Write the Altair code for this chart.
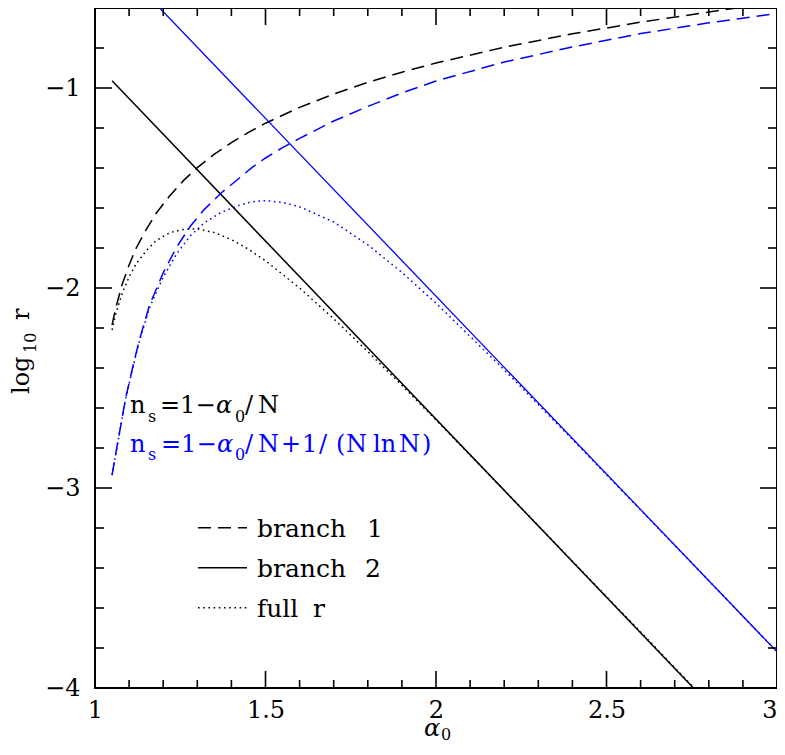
import altair as alt
import pandas as pd

# ---------------- data ----------------
# branch 1 (dashed), black: n_s = 1 - alpha0/N
alpha_b1_black = [1.05, 1.06, 1.08, 1.10, 1.12, 1.15, 1.18, 1.22, 1.26, 1.30, 1.35, 1.40,
                  1.45, 1.50, 1.60, 1.70, 1.80, 1.90, 2.00, 2.20, 2.40, 2.60, 2.80, 2.90]
logr_b1_black = [-2.185, -2.105, -1.98, -1.885, -1.803, -1.708, -1.625, -1.537, -1.462, -1.398,
                 -1.331, -1.273, -1.222, -1.176, -1.097, -1.030, -0.972, -0.921, -0.875,
                 -0.796, -0.729, -0.671, -0.620, -0.596]

# branch 2 (solid), black
alpha_b2_black = [1.05, 2.755]
logr_b2_black = [-0.964, -4.0]

# full r (dotted), black
alpha_full_black = [1.05, 1.06, 1.08, 1.10, 1.12, 1.15, 1.18, 1.22, 1.26, 1.30, 1.35, 1.40,
                    1.45, 1.50, 1.60, 1.70, 1.80, 1.90, 2.00, 2.20, 2.40, 2.60, 2.75]
logr_full_black = [-2.21, -2.135, -2.025, -1.945, -1.881, -1.814, -1.762, -1.723, -1.707,
                   -1.704, -1.723, -1.758, -1.806, -1.864, -2.000, -2.154, -2.318, -2.487,
                   -2.660, -3.011, -3.366, -3.720, -3.987]

# blue: n_s = 1 - alpha0/N + 1/(N ln N)
alpha_blue = [1.05, 1.07, 1.09, 1.11, 1.13, 1.16, 1.20, 1.24, 1.28, 1.32, 1.37, 1.42, 1.46,
              1.50, 1.55, 1.60, 1.70, 1.80, 1.90, 2.00, 2.20, 2.40, 2.60, 2.80, 3.00]
logr_b1_blue = [-2.935, -2.74, -2.55, -2.40, -2.26, -2.085, -1.924, -1.794, -1.690, -1.608,
                -1.525, -1.455, -1.398, -1.350, -1.298, -1.252, -1.165, -1.092, -1.025,
                -0.965, -0.870, -0.795, -0.728, -0.674, -0.627]
logr_full_blue = [-2.936, -2.742, -2.553, -2.405, -2.267, -2.098, -1.945, -1.827, -1.738,
                  -1.675, -1.622, -1.588, -1.569, -1.563, -1.572, -1.594, -1.670, -1.784,
                  -1.922, -2.076, -2.409, -2.757, -3.110, -3.464, -3.819]

alpha_b2_blue = [1.188, 3.0]
logr_b2_blue = [-0.597, -3.819]

# axis ticks
x_major = [1, 1.5, 2, 2.5, 3]
x_minor = [1.1, 1.2, 1.3, 1.4, 1.6, 1.7, 1.8, 1.9, 2.1, 2.2, 2.3, 2.4, 2.6, 2.7, 2.8, 2.9]
y_major = [-4, -3, -2, -1]
y_minor = [-3.8, -3.6, -3.4, -3.2, -2.8, -2.6, -2.4, -2.2, -1.8, -1.6, -1.4, -1.2, -0.8]

# ---------------- chart ----------------
W, H = 682, 680
FONT = "DejaVu Serif"
BLACK = "#000000"
BLUE = "#0000ff"

xscale = alt.Scale(domain=[1, 3], nice=False, zero=False)
yscale = alt.Scale(domain=[-4, -0.6], nice=False, zero=False)
xaxis = alt.Axis(values=x_major, format="~g", title=None, ticks=False, domain=False,
                 grid=False, labelFont=FONT, labelFontSize=24, labelColor=BLACK,
                 labelPadding=10, labelFlush=False, labelOverlap=False,
                 labelAlign=alt.ExprRef(expr="datum.value == 3 ? 'right' : 'center'"))
yaxis = alt.Axis(values=y_major, format="~g", title=None, ticks=False, domain=False,
                 grid=False, labelFont=FONT, labelFontSize=24, labelColor=BLACK,
                 labelPadding=15, labelFlush=False, labelOverlap=False)


def X(field="a"):
    return alt.X(f"{field}:Q", scale=xscale, axis=xaxis)


def Y(field="r"):
    return alt.Y(f"{field}:Q", scale=yscale, axis=yaxis)


def curve(al, lr, color, dash=None, width=1.5):
    df = pd.DataFrame({"a": al, "r": lr})
    kw = dict(clip=True, color=color, strokeWidth=width)
    if dash is not None:
        kw["strokeDash"] = dash
    return alt.Chart(df).mark_line(**kw).encode(x=X(), y=Y(), order="a:Q")


DASH = [13, 7]
DOT = [1.6, 3.6]

layers = [
    curve(alpha_b1_black, logr_b1_black, BLACK, DASH),
    curve(alpha_b2_black, logr_b2_black, BLACK),
    curve(alpha_full_black, logr_full_black, BLACK, DOT),
    curve(alpha_blue, logr_b1_blue, BLUE, DASH),
    curve(alpha_b2_blue, logr_b2_blue, BLUE, width=1.3),
    curve(alpha_blue, logr_full_blue, BLUE, DOT),
]


# inward ticks on all four sides
def xticks(vals, length):
    df = pd.DataFrame({"a": vals})
    bot = alt.Chart(df).mark_rule(color=BLACK, strokeWidth=1.6).encode(
        x=X(), y=alt.value(H), y2=alt.value(H - length))
    top = alt.Chart(df).mark_rule(color=BLACK, strokeWidth=1.6).encode(
        x=X(), y=alt.value(0), y2=alt.value(length))
    return [bot, top]


def yticks(vals, length):
    df = pd.DataFrame({"r": vals})
    left = alt.Chart(df).mark_rule(color=BLACK, strokeWidth=1.6).encode(
        y=Y(), x=alt.value(0), x2=alt.value(length))
    right = alt.Chart(df).mark_rule(color=BLACK, strokeWidth=1.6).encode(
        y=Y(), x=alt.value(W), x2=alt.value(W - length))
    return [left, right]


layers += xticks(x_major, 17) + xticks(x_minor, 8)
layers += yticks(y_major, 17) + yticks(y_minor, 9)

dummy = pd.DataFrame({"d": [0]})


def txt(s, x, y, size=24, color=BLACK, italic=False, angle=None):
    kw = dict(text=s, font=FONT, fontSize=size, color=color, align="left",
              baseline="alphabetic", fontStyle="italic" if italic else "normal")
    if angle is not None:
        kw["angle"] = angle
    return alt.Chart(dummy).mark_text(**kw).encode(x=alt.value(x), y=alt.value(y))


# annotation: n_s = 1 - alpha0/N
b, sb = 405, 414
layers += [
    txt("n", 35, b), txt("s", 53, sb, 16), txt("=", 65, b), txt("1", 85, b),
    txt("\u2212", 100.5, b), txt("\u03b1", 121, b, italic=True), txt("0", 140, sb, 16),
    txt("/", 150, b), txt("N", 163, b),
]
# annotation: n_s = 1 - alpha0/N + 1/(N ln N)
b, sb = 444, 452
layers += [
    txt("n", 35, b, color=BLUE), txt("s", 53, sb, 16, color=BLUE), txt("=", 66, b, color=BLUE),
    txt("1", 86, b, color=BLUE), txt("\u2212", 101.5, b, color=BLUE),
    txt("\u03b1", 122, b, color=BLUE, italic=True), txt("0", 140, sb, 16, color=BLUE),
    txt("/", 150, b, color=BLUE), txt("N", 163, b, color=BLUE), txt("+", 186, b, color=BLUE),
    txt("1", 207, b, color=BLUE), txt("/", 224, b, color=BLUE), txt("(", 241, b, color=BLUE),
    txt("N", 251, b, color=BLUE), txt("ln", 278, b, color=BLUE), txt("N", 304, b, color=BLUE),
    txt(")", 327, b, color=BLUE),
]

# legend
def legline(y, dash=None):
    kw = dict(color=BLACK, strokeWidth=1.5)
    if dash is not None:
        kw["strokeDash"] = dash
    return alt.Chart(dummy).mark_rule(**kw).encode(
        x=alt.value(103), x2=alt.value(152), y=alt.value(y))


layers += [
    legline(519.7, DASH), txt("branch", 162, 529, 25), txt("1", 272, 529, 25),
    legline(559.7), txt("branch", 162, 569, 25), txt("2", 270, 569, 25),
    legline(599.7, DOT), txt("full", 162, 609, 25), txt("r", 218, 609, 25),
]

# axis titles
layers += [
    txt("\u03b1", 329, 728, 24, italic=True), txt("0", 346, 732, 16),
    txt("log", -66, 386, 24, angle=270), txt("10", -59, 345, 16, angle=270),
    txt("r", -66, 312, 24, angle=270),
]

chart = alt.layer(*layers).properties(
    width=W, height=H,
    autosize=alt.AutoSizeParams(type="none"),
    padding={"left": 87, "top": 0, "right": 0, "bottom": 55},
).configure_view(stroke=BLACK, strokeWidth=2)

chart.save("out.html", embed_options={"renderer": "svg", "actions": False})
